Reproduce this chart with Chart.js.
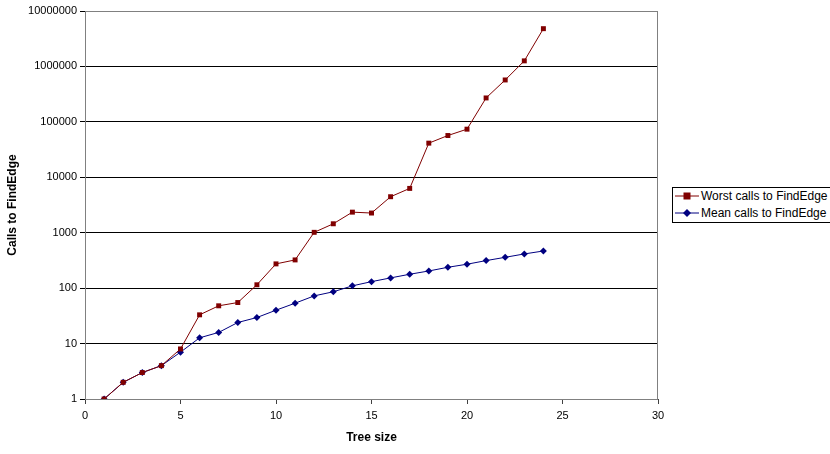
<!DOCTYPE html>
<html>
<head>
<meta charset="utf-8">
<script src="https://cdn.jsdelivr.net/npm/chart.js@4"></script>
<style>
  html, body { margin: 0; padding: 0; background: #fff; overflow: hidden; }
  #wrap { position: relative; width: 830px; height: 454px; overflow: hidden; }
  #legend {
    position: absolute; left: 672px; top: 187px; width: 170px;
    border: 1px solid #000; background: #fff;
    font: 12px "Liberation Sans", Arial, sans-serif; color: #000;
    padding: 0 0 0 2px; line-height: 17px; white-space: nowrap;
  }
  #legend svg { vertical-align: middle; margin-right: 2px; position: relative; top: -1px; }
</style>
</head>
<body>
<div id="wrap">
  <canvas id="chart" width="830" height="454"></canvas>
  <div id="legend">
    <div><svg width="24" height="10"><line x1="0" y1="5" x2="24" y2="5" stroke="#800000" stroke-width="1"/><rect x="8.5" y="1.5" width="7" height="7" fill="#800000"/></svg>Worst calls to FindEdge</div>
    <div><svg width="24" height="10"><line x1="0" y1="5" x2="24" y2="5" stroke="#000080" stroke-width="1"/><polygon points="12,1 16,5 12,9 8,5" fill="#000080"/></svg>Mean calls to FindEdge</div>
  </div>
</div>
<script>
/* ===== Calls to FindEdge vs tree size ===== */

const TREE_SIZES = [1, 2, 3, 4, 5, 6, 7, 8, 9, 10, 11, 12, 13, 14, 15, 16, 17, 18, 19, 20, 21, 22, 23, 24];

const WORST_CALLS = [1, 2, 3, 4, 8, 33, 48, 55, 115, 274, 323, 1016, 1450, 2350, 2265,
  4460, 6300, 41300, 56700, 73800, 270000, 570000, 1260000, 4800000];

const MEAN_CALLS = [1, 2, 3, 4, 7, 12.7, 15.9, 24, 29.5, 40, 53.5, 72.5, 86, 110, 131,
  153, 178, 204, 238, 270, 314, 360, 414, 468];

const Y_TICKS = [1, 10, 100, 1000, 10000, 100000, 1000000, 10000000];

const FONT = { family: '"Liberation Sans", Arial, sans-serif', size: 11 };
const FONT_BOLD = { family: '"Liberation Sans", Arial, sans-serif', size: 12, weight: 'bold' };

function toPoints(values) {
  return values.map((v, i) => ({ x: TREE_SIZES[i], y: v }));
}

// gray frame round the plot area
const plotFrame = {
  id: 'plotFrame',
  beforeDatasetsDraw(chart) {
    const { ctx, chartArea: a } = chart;
    ctx.save();
    ctx.strokeStyle = '#808080';
    ctx.lineWidth = 1;
    ctx.strokeRect(a.left + 0.5, a.top + 0.5, a.right - a.left - 1, a.bottom - a.top);
    ctx.restore();
  },
};

new Chart(document.getElementById('chart'), {
  type: 'scatter',
  data: {
    datasets: [
      {
        label: 'Worst calls to FindEdge',
        data: toPoints(WORST_CALLS),
        showLine: true,
        borderColor: '#800000',
        backgroundColor: '#800000',
        borderWidth: 1,
        pointStyle: 'rect',
        pointRadius: 3.5,
        pointBorderWidth: 0,
      },
      {
        label: 'Mean calls to FindEdge',
        data: toPoints(MEAN_CALLS),
        showLine: true,
        borderColor: '#000080',
        backgroundColor: '#000080',
        borderWidth: 1,
        pointStyle: 'rectRot',
        pointRadius: 3.5,
        pointBorderWidth: 0,
      },
    ],
  },
  options: {
    responsive: false,
    animation: false,
    layout: { padding: { top: 11, right: 172, left: 0, bottom: 9 } },
    scales: {
      x: {
        type: 'linear',
        min: 0,
        max: 30,
        afterFit(scale) { scale.height = 46; },
        ticks: { stepSize: 5, color: '#000', font: FONT, padding: 5, maxRotation: 0 },
        grid: { drawOnChartArea: false, color: '#404040', tickLength: 5 },
        border: { color: '#404040' },
        title: { display: true, text: 'Tree size', color: '#000', font: FONT_BOLD, padding: { top: 4, bottom: 0 } },
      },
      y: {
        type: 'logarithmic',
        min: 1,
        max: 10000000,
        afterFit(scale) { scale.width = 85; },
        afterBuildTicks(scale) { scale.ticks = Y_TICKS.map(v => ({ value: v })); },
        ticks: {
          color: '#000',
          font: FONT,
          padding: 3,
          callback: v => String(v),
        },
        grid: { color: '#000', tickLength: 5 },
        border: { color: '#404040' },
        title: { display: true, text: 'Calls to FindEdge', color: '#000', font: FONT_BOLD, padding: { top: 5, bottom: 0 } },
      },
    },
    plugins: {
      legend: { display: false },
      tooltip: { enabled: false },
    },
  },
  plugins: [plotFrame],
});
</script>
</body>
</html>
